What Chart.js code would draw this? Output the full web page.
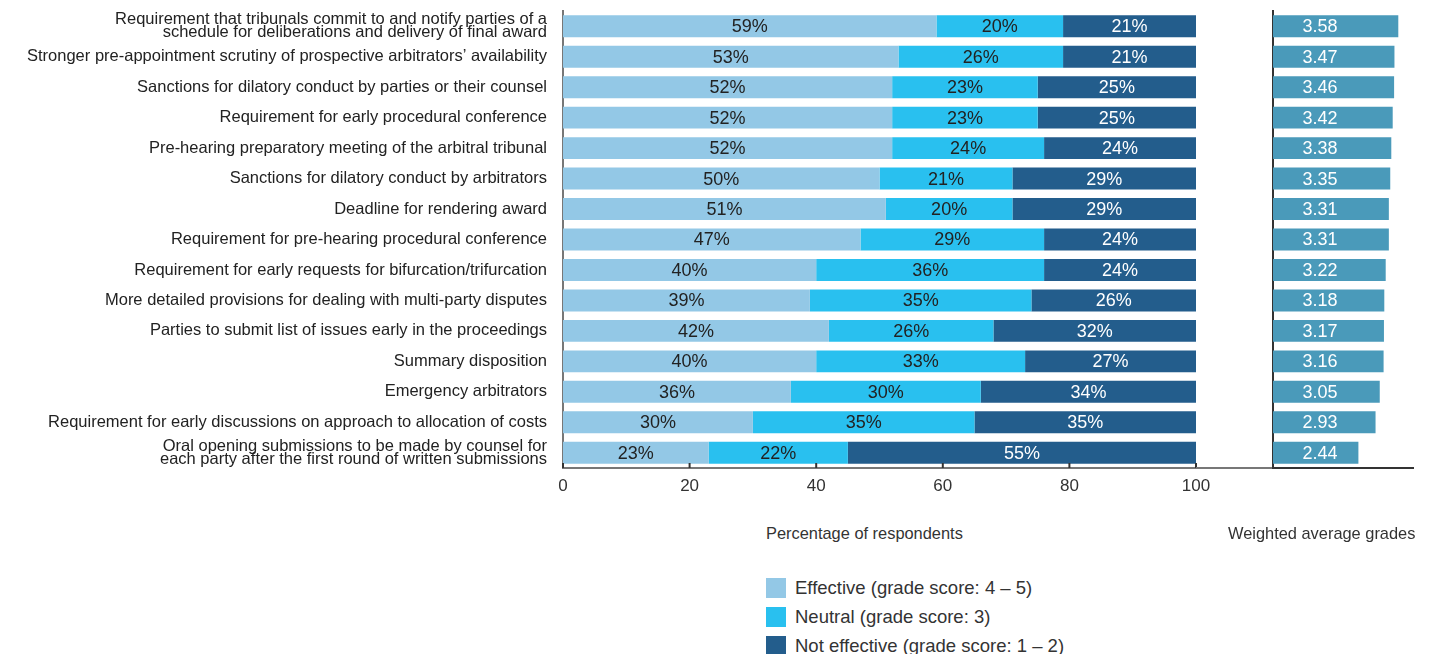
<!DOCTYPE html>
<html>
<head>
<meta charset="utf-8">
<script src="https://cdn.jsdelivr.net/npm/chart.js@4/dist/chart.umd.min.js"></script>
<style>
  body { margin: 0; background: #fff; font-family: "Liberation Sans", Arial, sans-serif; }
  .wrap { position: relative; width: 1430px; height: 654px; overflow: hidden; }
  #leftBox { position: absolute; left: 0; top: 0; }
  #rightBox { position: absolute; left: 1196px; top: 0; }
  .axis-title { position: absolute; top: 524px; font-size: 16.4px; color: #333; white-space: nowrap; }
  #legend { position: absolute; left: 766px; top: 573px; }
  .legend-row { display: flex; align-items: center; height: 29px; line-height: 29px; font-size: 18.5px; color: #333; }
  .legend-box { width: 20px; height: 20px; margin-right: 9px; flex: none; }
</style>
</head>
<body>
<div class="wrap">
  <div id="leftBox"><canvas id="shareChart" width="1260" height="500"></canvas></div>
  <div id="rightBox"><canvas id="gradeChart" width="234" height="500"></canvas></div>
  <div class="axis-title" style="left:766px">Percentage of respondents</div>
  <div class="axis-title" style="left:1228px">Weighted average grades</div>
  <div id="legend"></div>
</div>
<script>
const categories = [
  ["Requirement that tribunals commit to and notify parties of a", "schedule for deliberations and delivery of final award"],
  "Stronger pre-appointment scrutiny of prospective arbitrators’ availability",
  "Sanctions for dilatory conduct by parties or their counsel",
  "Requirement for early procedural conference",
  "Pre-hearing preparatory meeting of the arbitral tribunal",
  "Sanctions for dilatory conduct by arbitrators",
  "Deadline for rendering award",
  "Requirement for pre-hearing procedural conference",
  "Requirement for early requests for bifurcation/trifurcation",
  "More detailed provisions for dealing with multi-party disputes",
  "Parties to submit list of issues early in the proceedings",
  "Summary disposition",
  "Emergency arbitrators",
  "Requirement for early discussions on approach to allocation of costs",
  ["Oral opening submissions to be made by counsel for", "each party after the first round of written submissions"]
];

const effective = [59, 53, 52, 52, 52, 50, 51, 47, 40, 39, 42, 40, 36, 30, 23];
const neutral = [20, 26, 23, 23, 24, 21, 20, 29, 36, 35, 26, 33, 30, 35, 22];
const notEffective = [21, 21, 25, 25, 24, 29, 29, 24, 24, 26, 32, 27, 34, 35, 55];
const weightedGrades = [3.58, 3.47, 3.46, 3.42, 3.38, 3.35, 3.31, 3.31, 3.22, 3.18, 3.17, 3.16, 3.05, 2.93, 2.44];

const percentTicks = [0, 20, 40, 60, 80, 100];

const colors = {
  effective: "#93c8e6",
  neutral: "#29c0ef",
  notEffective: "#235d8c",
  grade: "#4a9aba"
};

const fontFamily = "'Liberation Sans', Arial, sans-serif";

// writes the value in the middle of each bar segment
const segmentLabels = {
  id: "segmentLabels",
  afterDatasetsDraw(chart) {
    const ctx = chart.ctx;
    ctx.save();
    ctx.font = `18px ${fontFamily}`;
    ctx.textAlign = "center";
    ctx.textBaseline = "middle";
    chart.data.datasets.forEach((ds, i) => {
      const meta = chart.getDatasetMeta(i);
      ctx.fillStyle = ds.labelColor;
      meta.data.forEach((bar, j) => {
        const x = (bar.x + bar.base) / 2;
        ctx.fillText(`${ds.data[j]}%`, x, bar.y + 1);
      });
    });
    ctx.restore();
  }
};

// short tick marks pointing up into the plot
const innerTicks = {
  id: "innerTicks",
  afterDraw(chart) {
    const ctx = chart.ctx;
    const xScale = chart.scales.x;
    const bottom = chart.chartArea.bottom;
    ctx.save();
    ctx.strokeStyle = "#333";
    ctx.lineWidth = 2;
    percentTicks.forEach((value) => {
      const x = xScale.getPixelForValue(value);
      ctx.beginPath();
      ctx.moveTo(x, bottom - 5);
      ctx.lineTo(x, bottom);
      ctx.stroke();
    });
    ctx.restore();
  }
};

const gradeLabels = {
  id: "gradeLabels",
  afterDatasetsDraw(chart) {
    const ctx = chart.ctx;
    const left = chart.chartArea.left;
    ctx.save();
    ctx.font = `18px ${fontFamily}`;
    ctx.textAlign = "center";
    ctx.textBaseline = "middle";
    ctx.fillStyle = "#fff";
    chart.getDatasetMeta(0).data.forEach((bar, j) => {
      ctx.fillText(weightedGrades[j].toFixed(2), left + 47, bar.y + 1);
    });
    ctx.restore();
  }
};

// grey baseline joining the two panels
const joinLine = {
  id: "joinLine",
  afterDraw(chart) {
    const ctx = chart.ctx;
    const y = chart.chartArea.bottom;
    ctx.save();
    ctx.strokeStyle = "#777";
    ctx.lineWidth = 2;
    ctx.beginPath();
    ctx.moveTo(0, y);
    ctx.lineTo(chart.chartArea.left - 1, y);
    ctx.stroke();
    ctx.restore();
  }
};

const shareChart = new Chart(document.getElementById("shareChart"), {
  type: "bar",
  data: {
    labels: categories,
    datasets: [
      { label: "Effective (grade score: 4 – 5)", data: effective, backgroundColor: colors.effective, labelColor: "#222" },
      { label: "Neutral (grade score: 3)", data: neutral, backgroundColor: colors.neutral, labelColor: "#222" },
      { label: "Not effective (grade score: 1 – 2)", data: notEffective, backgroundColor: colors.notEffective, labelColor: "#fff" }
    ]
  },
  options: {
    indexAxis: "y",
    responsive: false,
    animation: false,
    devicePixelRatio: 1,
    layout: { padding: { top: 11, right: 64, left: 0, bottom: 0 } },
    datasets: { bar: { categoryPercentage: 1, barPercentage: 0.72 } },
    plugins: { legend: { display: false }, tooltip: { enabled: false } },
    scales: {
      x: {
        stacked: true,
        min: 0,
        max: 100,
        afterBuildTicks: (scale) => { scale.ticks = percentTicks.map((v) => ({ value: v })); },
        afterFit: (scale) => { scale.height = 32; },
        grid: { display: false },
        border: { display: true, color: "#777", width: 2 },
        ticks: { color: "#333", font: { family: fontFamily, size: 17 }, padding: 0 }
      },
      y: {
        stacked: true,
        afterFit: (scale) => {
          scale.width = 563;
          scale.paddingTop = 0;
          scale.paddingBottom = 0;
        },
        grid: { display: false },
        border: { display: true, color: "#777", width: 2 },
        ticks: { color: "#222", font: { family: fontFamily, size: 16.5, lineHeight: 0.8 }, padding: 8, autoSkip: false }
      }
    }
  },
  plugins: [segmentLabels, innerTicks]
});

new Chart(document.getElementById("gradeChart"), {
  type: "bar",
  data: {
    labels: categories,
    datasets: [{ label: "Weighted average grades", data: weightedGrades, backgroundColor: colors.grade }]
  },
  options: {
    indexAxis: "y",
    responsive: false,
    animation: false,
    devicePixelRatio: 1,
    layout: { padding: { top: 11, right: 17, left: 0, bottom: 0 } },
    datasets: { bar: { categoryPercentage: 1, barPercentage: 0.72 } },
    plugins: { legend: { display: false }, tooltip: { enabled: false } },
    scales: {
      x: {
        min: 0,
        max: 4,
        afterFit: (scale) => { scale.height = 32; },
        grid: { display: false },
        border: { display: true, color: "#333", width: 2 },
        ticks: { display: false }
      },
      y: {
        afterFit: (scale) => { scale.width = 77; },
        grid: { display: false },
        border: { display: true, color: "#333", width: 2 },
        ticks: { display: false }
      }
    }
  },
  plugins: [gradeLabels, joinLine]
});

function renderLegend(chart) {
  const legend = document.getElementById("legend");
  legend.innerHTML = chart.data.datasets
    .map(
      (ds) => `
      <div class="legend-row">
        <span class="legend-box" style="background:${ds.backgroundColor}"></span>
        <span>${ds.label}</span>
      </div>
    `
    )
    .join("");
}

renderLegend(shareChart);
</script>
</body>
</html>
